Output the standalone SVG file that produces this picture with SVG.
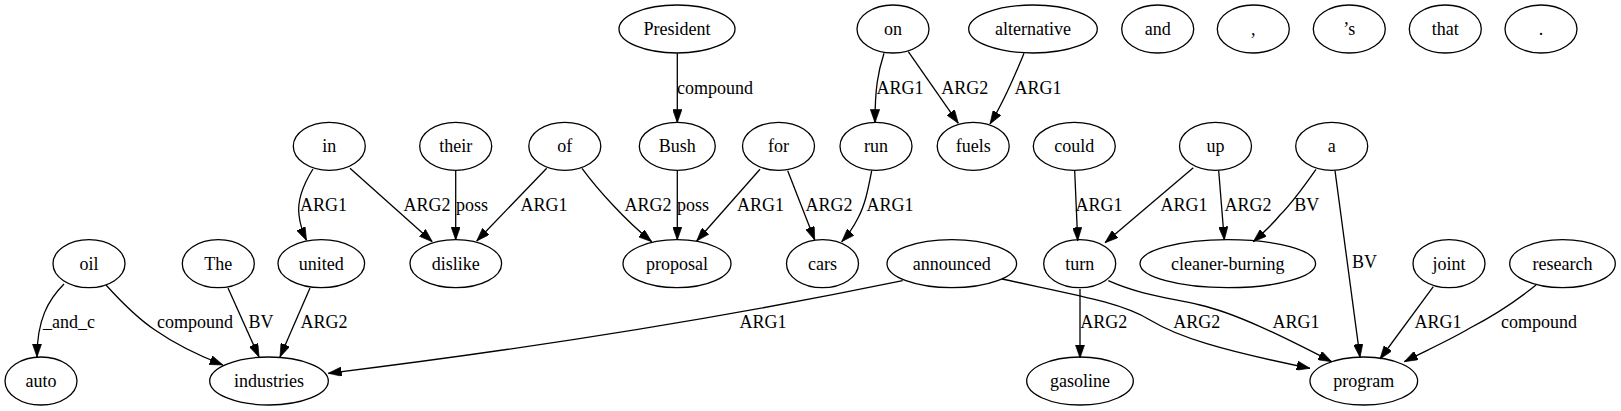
<svg xmlns="http://www.w3.org/2000/svg" width="1621" height="411" viewBox="0 0 1621 411">
<defs>
<style>
.n ellipse{fill:none;stroke:#000;stroke-width:1.3}
.n text{font-family:"Liberation Serif","Times New Roman",serif;font-size:18px;text-anchor:middle;fill:#000}
.e path{fill:none;stroke:#000;stroke-width:1.3;marker-end:url(#ah)}
.e text{font-family:"Liberation Serif","Times New Roman",serif;font-size:18px;text-anchor:middle;fill:#000}
</style>
<marker id="ah" viewBox="0 0 10 7" refX="10" refY="3.5" markerWidth="13.3" markerHeight="9.3" markerUnits="userSpaceOnUse" orient="auto">
<polygon points="0,0 10,3.5 0,7" fill="#000" stroke="#000" stroke-width="0.5"/>
</marker>
</defs>
<rect width="1621" height="411" fill="#fff"/>
<g id="connectors" class="e">
<path d="M64,284 C48,300 37,320 37,357"/><text x="69" y="328.3">_and_c</text>
<path d="M106,285 C125,306 140,320 155,330 C175,344 200,356 223,365"/><text x="195" y="328.3">compound</text>
<path d="M228,288 L259,357"/><text x="261" y="328.3">BV</text>
<path d="M310,288 L280,357"/><text x="324" y="328.3">ARG2</text>
<path d="M313,169 C303,185 297,200 299,215 C300,225 303,233 306.5,240.5"/><text x="323.5" y="210.5">ARG1</text>
<path d="M350,168.3 L432.3,241.7"/><text x="427" y="210.5">ARG2</text>
<path d="M455.7,170.7 L455.7,240"/><text x="472" y="210.5">poss</text>
<path d="M546.7,168.3 L476.7,241"/><text x="544" y="210.5">ARG1</text>
<path d="M582,168.3 C598,190 625,220 651.7,241.7"/><text x="648" y="210.5">ARG2</text>
<path d="M677.3,170.7 L677.3,240"/><text x="693" y="210.5">poss</text>
<path d="M760,169.3 L696.7,241"/><text x="760.5" y="210.5">ARG1</text>
<path d="M787.7,170.7 L814.7,240"/><text x="829" y="210.5">ARG2</text>
<path d="M871.7,170.7 C868,190 865,205 858,218 C853,228 848,235 841.7,241.7"/><text x="890" y="210.5">ARG1</text>
<path d="M677.3,53.3 L677.3,122.7"/><text x="715" y="93.5">compound</text>
<path d="M884,53.3 C878,72 875,88 875,122.7"/><text x="900" y="93.5">ARG1</text>
<path d="M908.3,51.7 L958.3,123.3"/><text x="964.7" y="93.5">ARG2</text>
<path d="M1024,53.3 C1015,75 1005,100 990,124"/><text x="1038" y="93.5">ARG1</text>
<path d="M902.7,280.7 C780,306 600,340 328.3,373.3"/><text x="763" y="328.3">ARG1</text>
<path d="M1002,279 C1075,295 1120,302 1150,320 C1178,337 1220,350 1310,368.3"/><text x="1196.7" y="328.3">ARG2</text>
<path d="M1080,289 L1080,358"/><text x="1103.7" y="328.3">ARG2</text>
<path d="M1108.3,280.7 C1140,295 1170,298 1200,305 C1235,313 1280,335 1331.7,361.7"/><text x="1296" y="328.3">ARG1</text>
<path d="M1074.7,171 L1077.7,240.7"/><text x="1099" y="210.5">ARG1</text>
<path d="M1193.3,167.7 L1105,242.7"/><text x="1184" y="210.5">ARG1</text>
<path d="M1218.7,170.7 L1224.3,240"/><text x="1248" y="210.5">ARG2</text>
<path d="M1316,169.3 C1305,185 1293,202 1280,215 C1272,225 1262,234 1253.3,241.7"/><text x="1306.7" y="210.5">BV</text>
<path d="M1335,170.7 L1360,357.3"/><text x="1364.5" y="268.3">BV</text>
<path d="M1433.3,286.7 L1380,359"/><text x="1438" y="328.3">ARG1</text>
<path d="M1536,285 C1515,302 1495,315 1470,328 C1450,340 1425,351 1404.3,361.7"/><text x="1539" y="328.3">compound</text>
</g>
<g id="n-President" class="n"><ellipse cx="677" cy="29" rx="58" ry="24"/><text x="677" y="35">President</text></g>
<g id="n-on" class="n"><ellipse cx="893" cy="29" rx="36" ry="24"/><text x="893" y="35">on</text></g>
<g id="n-alternative" class="n"><ellipse cx="1033" cy="29" rx="64.3" ry="24"/><text x="1033" y="35">alternative</text></g>
<g id="n-and" class="n"><ellipse cx="1157.7" cy="29" rx="36" ry="24"/><text x="1157.7" y="35">and</text></g>
<g id="n-comma" class="n"><ellipse cx="1253.3" cy="29" rx="36" ry="24"/><text x="1253.3" y="35">,</text></g>
<g id="n-s" class="n"><ellipse cx="1349.3" cy="29" rx="36" ry="24"/><text x="1349.3" y="35">&#8217;s</text></g>
<g id="n-that" class="n"><ellipse cx="1445.3" cy="29" rx="36" ry="24"/><text x="1445.3" y="35">that</text></g>
<g id="n-period" class="n"><ellipse cx="1541" cy="29" rx="36" ry="24"/><text x="1541" y="35">.</text></g>
<g id="n-in" class="n"><ellipse cx="329.3" cy="146.3" rx="36" ry="24"/><text x="329.3" y="152.3">in</text></g>
<g id="n-their" class="n"><ellipse cx="455.7" cy="146.3" rx="36" ry="24"/><text x="455.7" y="152.3">their</text></g>
<g id="n-of" class="n"><ellipse cx="564.8" cy="146.3" rx="36" ry="24"/><text x="564.8" y="152.3">of</text></g>
<g id="n-Bush" class="n"><ellipse cx="677.3" cy="146.3" rx="38" ry="24"/><text x="677.3" y="152.3">Bush</text></g>
<g id="n-for" class="n"><ellipse cx="778.5" cy="146.3" rx="36" ry="24"/><text x="778.5" y="152.3">for</text></g>
<g id="n-run" class="n"><ellipse cx="876" cy="146.3" rx="36" ry="24"/><text x="876" y="152.3">run</text></g>
<g id="n-fuels" class="n"><ellipse cx="973.2" cy="146.3" rx="36" ry="24"/><text x="973.2" y="152.3">fuels</text></g>
<g id="n-could" class="n"><ellipse cx="1074.3" cy="146.3" rx="41" ry="24"/><text x="1074.3" y="152.3">could</text></g>
<g id="n-up" class="n"><ellipse cx="1215.5" cy="146.3" rx="36" ry="24"/><text x="1215.5" y="152.3">up</text></g>
<g id="n-a" class="n"><ellipse cx="1331.7" cy="146.3" rx="36" ry="24"/><text x="1331.7" y="152.3">a</text></g>
<g id="n-oil" class="n"><ellipse cx="89" cy="263.7" rx="36" ry="24"/><text x="89" y="269.7">oil</text></g>
<g id="n-The" class="n"><ellipse cx="218.3" cy="263.7" rx="36" ry="24"/><text x="218.3" y="269.7">The</text></g>
<g id="n-united" class="n"><ellipse cx="321.3" cy="263.7" rx="43.3" ry="24"/><text x="321.3" y="269.7">united</text></g>
<g id="n-dislike" class="n"><ellipse cx="455.8" cy="263.7" rx="45.8" ry="24"/><text x="455.8" y="269.7">dislike</text></g>
<g id="n-proposal" class="n"><ellipse cx="677" cy="263.7" rx="54" ry="24"/><text x="677" y="269.7">proposal</text></g>
<g id="n-cars" class="n"><ellipse cx="822.5" cy="263.7" rx="36" ry="24"/><text x="822.5" y="269.7">cars</text></g>
<g id="n-announced" class="n"><ellipse cx="951.8" cy="263.7" rx="64.8" ry="24"/><text x="951.8" y="269.7">announced</text></g>
<g id="n-turn" class="n"><ellipse cx="1079.7" cy="263.7" rx="36" ry="24"/><text x="1079.7" y="269.7">turn</text></g>
<g id="n-cleaner-burning" class="n"><ellipse cx="1227.8" cy="263.7" rx="87.8" ry="24"/><text x="1227.8" y="269.7">cleaner-burning</text></g>
<g id="n-joint" class="n"><ellipse cx="1449" cy="263.7" rx="36" ry="24"/><text x="1449" y="269.7">joint</text></g>
<g id="n-research" class="n"><ellipse cx="1562.5" cy="263.7" rx="52.8" ry="24"/><text x="1562.5" y="269.7">research</text></g>
<g id="n-auto" class="n"><ellipse cx="41" cy="381" rx="36" ry="24"/><text x="41" y="387">auto</text></g>
<g id="n-industries" class="n"><ellipse cx="269" cy="381" rx="59.3" ry="24"/><text x="269" y="387">industries</text></g>
<g id="n-gasoline" class="n"><ellipse cx="1080" cy="381" rx="53.3" ry="24"/><text x="1080" y="387">gasoline</text></g>
<g id="n-program" class="n"><ellipse cx="1363.8" cy="381" rx="53.8" ry="24"/><text x="1363.8" y="387">program</text></g>
</svg>
